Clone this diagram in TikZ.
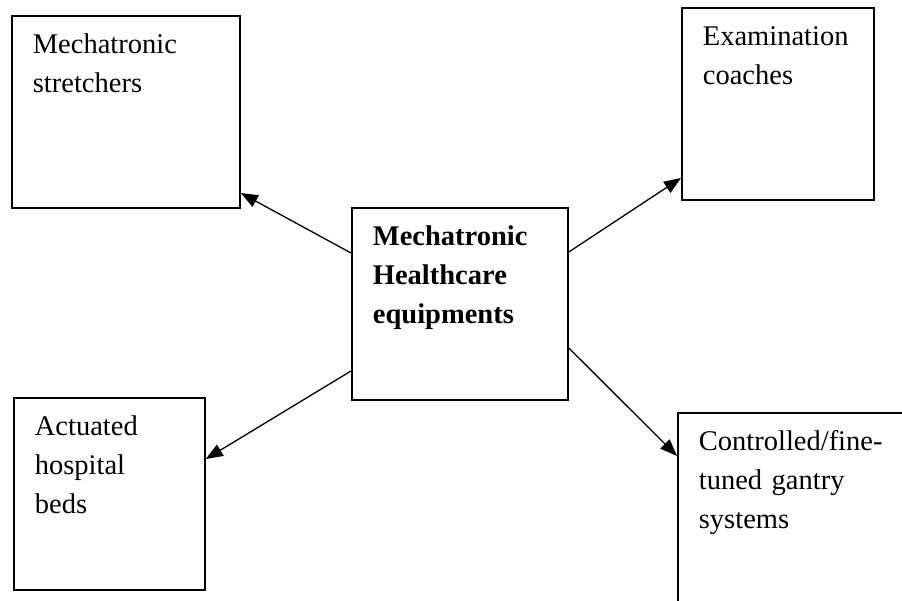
\documentclass[tikz,border=0pt]{standalone}
\usepackage{fontspec}
\setmainfont{Liberation Serif}
\usetikzlibrary{arrows.meta}

\begin{document}
\begin{tikzpicture}[x=1pt,y=1pt,
  box/.style={draw, line width=1.8pt, anchor=north west, align=left,
    inner xsep=21pt, inner ysep=16pt, text height=22pt, text depth=138pt,
    font=\fontsize{28.5}{39}\selectfont},
  link/.style={draw, line width=1.3pt, -{Triangle[length=17pt,width=13pt]}}]
  \clip (0,0) rectangle (902,600);
  \node[box, text width=186pt] (stretch) at (11,585) {Mechatronic\\stretchers};
  \node[box, text width=150pt] (coach) at (681,593) {Examination\\coaches};
  \node[box, text width=174pt, font=\fontsize{28.5}{39}\selectfont\bfseries] (core) at (351,393) {Mechatronic\\Healthcare\\equipments};
  \node[box, text width=149pt] (beds) at (13,203) {Actuated\\hospital\\beds};
  \node[box, text width=186pt] (gantry) at (677,188) {Controlled/fine-\\tuned gantry\\systems};
  \path ([yshift=-46pt]core.north west) edge[link] ([yshift=-178pt]stretch.north east)
        ([yshift=-45pt]core.north east) edge[link] ([yshift=-171pt]coach.north west)
        ([yshift=-164pt]core.north west) edge[link] ([yshift=-62pt]beds.north east)
        ([yshift=-141pt]core.north east) edge[link] ([yshift=-44pt]gantry.north west)
  ;
\end{tikzpicture}
\end{document}
